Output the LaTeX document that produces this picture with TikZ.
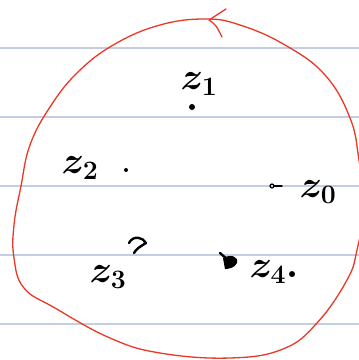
\documentclass[tikz,border=0pt]{standalone}
\usepackage{fix-cm}
\usepackage{tikz}
\usetikzlibrary{positioning}

\definecolor{ruleblue}{RGB}{196,206,226}
\definecolor{inkred}{RGB}{234,56,38}

\begin{document}
\begin{tikzpicture}[
  x=1pt, y=-1pt,
  rule/.style={draw=ruleblue, line width=1.4pt},
  contour/.style={draw=inkred, line width=1.3pt, line cap=round, line join=round},
  pt/.style={fill=black, inner sep=0pt},
  ink/.style={draw=black, line width=2.4pt, line cap=round, line join=round},
  zlabel/.style={inner sep=0pt, font=\fontsize{38}{42}\selectfont\boldmath},
]

\useasboundingbox (0,0) rectangle (359,360);
\clip (0,0) rectangle (359,360);

% Ruled paper lines
\foreach \ypos in {48,117,186,255,324}
  \draw[rule] (0,\ypos) -- (359,\ypos);

% Red closed contour through the sketch
\draw[contour] plot[smooth cycle, tension=0.7] coordinates {
  (205,19) (160,25) (115,44) (78,72) (50,107) (30,145) (21,186)
  (14,225) (14,258) (24,288) (55,308) (110,338) (160,353)
  (230,358) (283,349) (317,323) (347,280) (357,250)
  (364,205) (359,160) (350,118) (325,75) (285,45) (240,25)};

% Arrow tip on top (pointing left)
\coordinate (tip) at (209,20);
\coordinate (barbA) at (226,9);
\coordinate (barbB) at (222,37);
\draw[contour] (barbA) -- (tip) .. controls (216,25) .. (barbB);

% Points
\node[pt, circle, minimum width=4pt, minimum height=6pt] (p1) at (192,107) {};
\node[pt, circle, minimum size=4pt] (p2) at (126,170) {};
\node[draw=black, line width=1.2pt, circle, inner sep=0pt, minimum size=4pt] (p0) at (272,186) {};
\coordinate (p0end) at (282,186);
\draw[ink, line width=1.4pt] (p0) -- (p0end);
\coordinate (p3) at (136,246);
\draw[ink] (129,243) .. controls (133,235) and (143,237) .. (146,243)
  .. controls (141,246) and (136,249) .. (134,253);
\coordinate (p4) at (230,262);
\draw[ink] (220,253) -- (228,260);
\fill (223,258) .. controls (230,254) and (239,256) .. (237,263)
  .. controls (235,268) and (228,269) .. (225,269) -- cycle;

% Labels
\node[zlabel] (z1) at (199,84) {$z_1$};
\node[zlabel] (z2) at (80,168) {$z_2$};
\node[zlabel] (z0) at (318,192) {$z_0$};
\node[zlabel] (z3) at (108,277) {$z_3$};
\node[zlabel] (z4) at (274,272) {$z_4.$};

\end{tikzpicture}
\end{document}
